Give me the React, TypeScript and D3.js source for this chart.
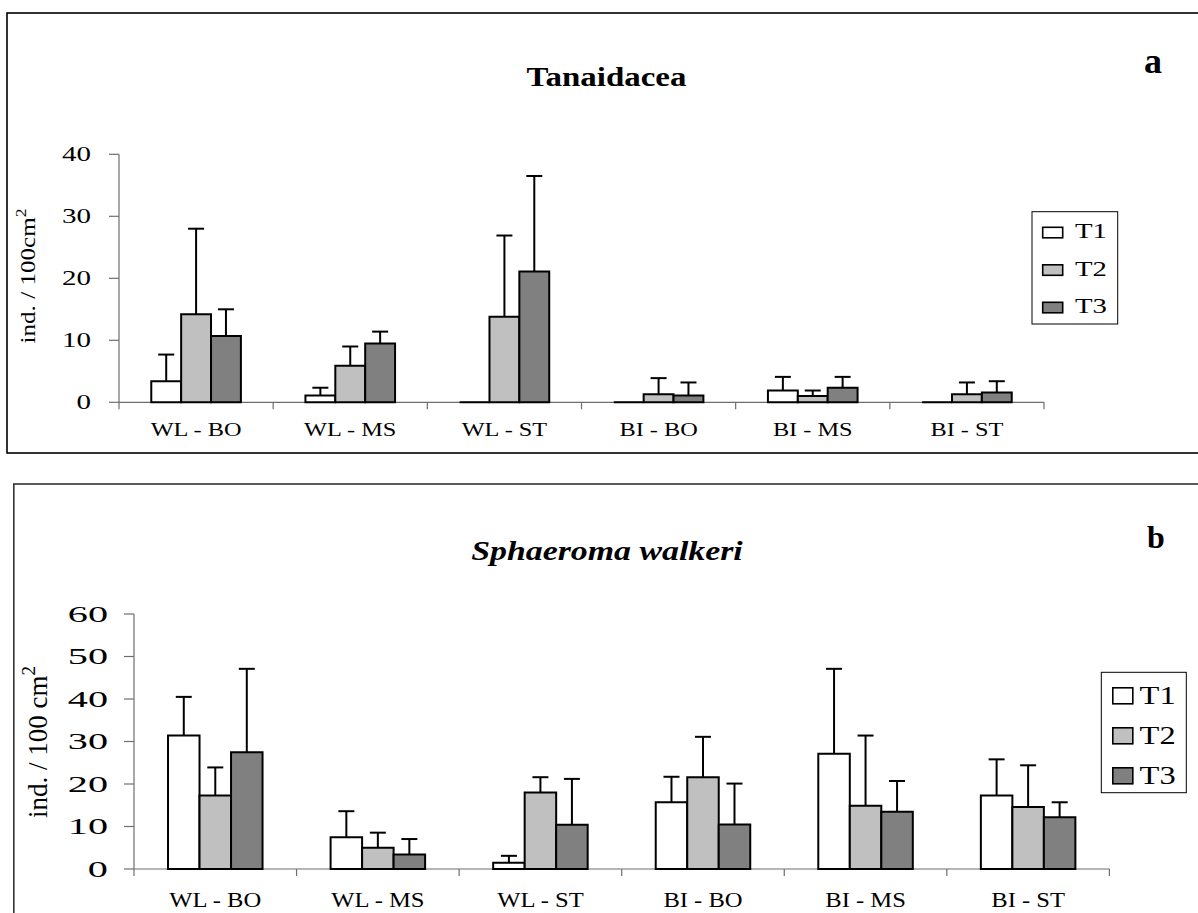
import React from "react";
import * as d3 from "d3";

const categories = ["WL - BO", "WL - MS", "WL - ST", "BI - BO", "BI - MS", "BI - ST"];
const series = ["T1", "T2", "T3"];
const fills = ["#ffffff", "#c0c0c0", "#808080"];

// panel a - Tanaidacea, means and SD per treatment
const tanaMeanT1 = [3.4, 1.1, 0, 0, 1.9, 0];
const tanaMeanT2 = [14.2, 5.9, 13.8, 1.3, 1.0, 1.3];
const tanaMeanT3 = [10.7, 9.5, 21.1, 1.1, 2.35, 1.6];
const tanaSdT1 = [4.3, 1.25, 0, 0, 2.2, 0];
const tanaSdT2 = [13.8, 3.1, 13.1, 2.6, 0.9, 1.9];
const tanaSdT3 = [4.3, 1.9, 15.4, 2.1, 1.75, 1.8];
const tanaTicks = [0, 10, 20, 30, 40];

// panel b - Sphaeroma walkeri
const sphMeanT1 = [31.4, 7.45, 1.5, 15.7, 27.1, 17.3];
const sphMeanT2 = [17.3, 5.0, 18.0, 21.6, 14.9, 14.6];
const sphMeanT3 = [27.5, 3.4, 10.4, 10.5, 13.5, 12.2];
const sphSdT1 = [9.1, 6.15, 1.6, 6.0, 20.0, 8.5];
const sphSdT2 = [6.6, 3.55, 3.6, 9.5, 16.5, 9.8];
const sphSdT3 = [19.6, 3.65, 10.8, 9.6, 7.2, 3.5];
const sphTicks = [0, 10, 20, 30, 40, 50, 60];

const serif = "'Liberation Serif', 'Times New Roman', Times, serif";

function SText({ x, y, sx = 1, size, anchor = "start", weight = "normal", italic = false, children }: any) {
  return (
    <text
      transform={`translate(${x},${y}) scale(${sx},1)`}
      textAnchor={anchor}
      fontFamily={serif}
      fontSize={size}
      fontWeight={weight}
      fontStyle={italic ? "italic" : "normal"}
      fill="#000"
    >
      {children}
    </text>
  );
}

function Panel({ p, means, sds, ticks }: any) {
  const x = d3.scaleBand<string>().domain(categories).range([p.x0, p.x1]);
  const inner = d3.scaleBand<string>().domain(series).range([0, x.bandwidth()]).paddingOuter(1.08);
  const y = d3.scaleLinear().domain([0, ticks[ticks.length - 1]]).range([p.yZero, p.yTop]);
  const w = inner.bandwidth();
  const axisColor = "#6e6e6e";
  const edges = categories.map((c) => x(c) as number).concat([p.x1]);

  return (
    <g>
      <rect x={p.frame[0]} y={p.frame[1]} width={p.frame[2] - p.frame[0]} height={p.frame[3] - p.frame[1]}
        fill="none" stroke={p.frameColor} strokeWidth={1.6} />

      <SText x={p.titleX} y={p.titleY} sx={p.titleSx} size={p.titleSize} anchor="middle" weight="bold" italic={p.titleItalic}>
        {p.title}
      </SText>
      <SText x={p.letterX} y={p.letterY} size={p.letterSize} anchor="middle" weight="bold">{p.letter}</SText>

      {/* y axis */}
      <line x1={p.x0} x2={p.x0} y1={y(0)} y2={y(ticks[ticks.length - 1])} stroke={axisColor} strokeWidth={1.2} />
      {ticks.map((t: number) => (
        <g key={t}>
          <line x1={p.x0 - 10} x2={p.x0} y1={y(t)} y2={y(t)} stroke={axisColor} strokeWidth={1.2} />
          <SText x={p.x0 - p.tickGap} y={y(t) + p.tickSize * 0.34} sx={p.tickSx} size={p.tickSize} anchor="end">{t}</SText>
        </g>
      ))}
      <text
        transform={`translate(${p.yLabelX},${p.yLabelY}) scale(${p.yLabelSx},1) rotate(-90)`}
        textAnchor="middle" dominantBaseline="central" fontFamily={serif} fontSize={p.yLabelSize}
        textLength={p.yLabelLength} lengthAdjust="spacingAndGlyphs"
      >
        {p.yLabel}<tspan fontSize={p.yLabelSize * 0.7} dy={-p.yLabelSize * 0.35}>2</tspan>
      </text>

      {/* x axis */}
      <line x1={p.x0} x2={p.x1} y1={y(0)} y2={y(0)} stroke={axisColor} strokeWidth={1.2} />
      {edges.map((e, i) => (
        <line key={i} x1={e} x2={e} y1={y(0)} y2={y(0) + 7} stroke={axisColor} strokeWidth={1.2} />
      ))}
      {categories.map((c) => (
        <SText key={c} x={(x(c) as number) + x.bandwidth() / 2} y={p.xLabelY} sx={p.xLabelSx} size={p.xLabelSize} anchor="middle">
          {c}
        </SText>
      ))}

      {/* bars + error bars */}
      {series.map((s, si) =>
        categories.map((c, ci) => {
          const v = means[si][ci];
          const sd = sds[si][ci];
          const bx = (x(c) as number) + (inner(s) as number);
          const cx = bx + w / 2;
          return (
            <g key={s + c}>
              {sd > 0 && (
                <g stroke="#000" strokeWidth={2}>
                  <line x1={cx} x2={cx} y1={y(v)} y2={y(v + sd)} />
                  <line x1={cx - 8} x2={cx + 8} y1={y(v + sd)} y2={y(v + sd)} />
                </g>
              )}
              <path d={`M${bx},${y(0)}V${y(v)}H${bx + w}V${y(0)}Z`} fill={fills[si]} stroke="#000" strokeWidth={2} />
            </g>
          );
        })
      )}

      {/* legend */}
      <rect x={p.legend.x0} y={p.legend.y0} width={p.legend.x1 - p.legend.x0} height={p.legend.y1 - p.legend.y0}
        fill="#fff" stroke="#000" strokeWidth={1} />
      {series.map((s, si) => {
        const base = p.legend.base + si * p.legend.step;
        return (
          <g key={s}>
            <rect x={p.legend.sx0} y={base - p.legend.swH - 0.5} width={p.legend.swW} height={p.legend.swH}
              fill={fills[si]} stroke="#000" strokeWidth={1.6} />
            <SText x={p.legend.tx} y={base} sx={p.legend.tsx} size={p.legend.tsize}>{s}</SText>
          </g>
        );
      })}
    </g>
  );
}

const panelA = {
  frame: [7, 13, 1210, 453],
  frameColor: "#000",
  x0: 119, x1: 1044, yZero: 402.3, yTop: 154.3,
  title: "Tanaidacea", titleItalic: false, titleX: 606.5, titleY: 86, titleSize: 27, titleSx: 1.22,
  letter: "a", letterX: 1153, letterY: 73, letterSize: 36,
  tickSize: 20, tickSx: 1.45, tickGap: 28,
  xLabelY: 436, xLabelSize: 19, xLabelSx: 1.28,
  yLabel: "ind. / 100cm", yLabelX: 28, yLabelY: 276, yLabelSize: 19, yLabelSx: 1.1, yLabelLength: 135,
  legend: { x0: 1032, x1: 1117.7, y0: 211.7, y1: 324, sx0: 1042.7, swW: 20, swH: 10.5, base: 238.3, step: 37.5, tx: 1075, tsx: 1.44, tsize: 20 },
};

const panelB = {
  frame: [13.8, 484, 1210, 930],
  frameColor: "#333",
  x0: 134, x1: 1109.4, yZero: 869, yTop: 614,
  title: "Sphaeroma walkeri", titleItalic: true, titleX: 607, titleY: 560, titleSize: 27.5, titleSx: 1.23,
  letter: "b", letterX: 1156, letterY: 548, letterSize: 32,
  tickSize: 23, tickSx: 1.75, tickGap: 26,
  xLabelY: 907, xLabelSize: 20.5, xLabelSx: 1.2,
  yLabel: "ind. / 100 cm", yLabelX: 38, yLabelY: 742, yLabelSize: 21, yLabelSx: 1.25, yLabelLength: 152,
  legend: { x0: 1101.3, x1: 1186.3, y0: 672.3, y1: 792.7, sx0: 1112.8, swW: 20, swH: 16, base: 704.3, step: 40, tx: 1139.6, tsx: 1.3, tsize: 25 },
};

export default function App() {
  return (
    <div style={{ position: "absolute", left: 0, top: 0, width: 1198, height: 913, overflow: "hidden", background: "#fff" }}>
      <svg width={1198} height={913} style={{ display: "block" }}>
        <rect width={1198} height={913} fill="#fff" />
        <Panel p={panelA} means={[tanaMeanT1, tanaMeanT2, tanaMeanT3]} sds={[tanaSdT1, tanaSdT2, tanaSdT3]} ticks={tanaTicks} />
        <Panel p={panelB} means={[sphMeanT1, sphMeanT2, sphMeanT3]} sds={[sphSdT1, sphSdT2, sphSdT3]} ticks={sphTicks} />
      </svg>
    </div>
  );
}
